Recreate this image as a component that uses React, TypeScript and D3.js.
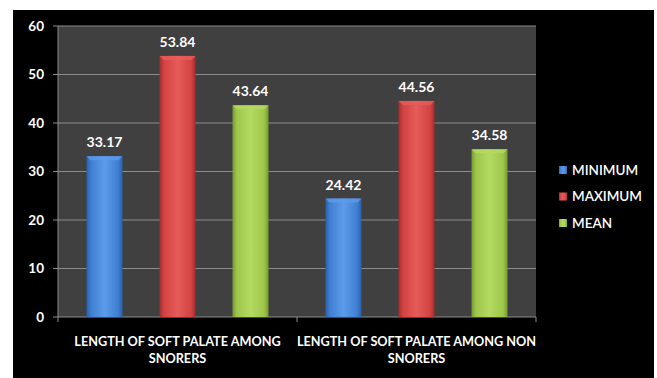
import React from 'react';
import * as d3 from 'd3';

const categories = [
  ['LENGTH OF SOFT PALATE AMONG', 'SNORERS'],
  ['LENGTH OF SOFT PALATE AMONG NON', 'SNORERS'],
];
const seriesNames = ['MINIMUM', 'MAXIMUM', 'MEAN'];
const minimum = [33.17, 24.42];
const maximum = [53.84, 44.56];
const mean = [43.64, 34.58];
const yTicks = [0, 10, 20, 30, 40, 50, 60];

const seriesValues = [minimum, maximum, mean];
const colors = [
  { base: '#3f7fd2', light: '#5d9bea', dark: '#2a5fa8' },
  { base: '#d24241', light: '#e65c5a', dark: '#a22c2c' },
  { base: '#9dc64a', light: '#b4da62', dark: '#789a33' },
];

export default function App() {
  const W = 657;
  const H = 378;
  const plot = { left: 58, right: 536, top: 26, bottom: 317 };

  const x0 = d3.scaleBand<number>()
    .domain(categories.map((_, i) => i))
    .range([plot.left, plot.right]);
  const x1 = d3.scaleBand<number>()
    .domain(seriesNames.map((_, i) => i))
    .range([0, x0.bandwidth()])
    .paddingInner(0.507)
    .paddingOuter(0.39);
  const y = d3.scaleLinear().domain([0, 60]).range([plot.bottom, plot.top]);

  const font = 'Lato, "Open Sans", sans-serif';

  return (
    <svg width={W} height={H} style={{ position: 'absolute', left: 0, top: 0 }}>
      <defs>
        {colors.map((c, i) => (
          <linearGradient key={i} id={`g${i}`} x1="0" x2="1" y1="0" y2="0">
            <stop offset="0" stopColor={c.dark} />
            <stop offset="0.12" stopColor={c.base} />
            <stop offset="0.5" stopColor={c.light} />
            <stop offset="0.88" stopColor={c.base} />
            <stop offset="1" stopColor={c.dark} />
          </linearGradient>
        ))}
      </defs>
      <rect x={0} y={0} width={W} height={H} fill="#ffffff" />
      <rect x={13} y={10} width={641} height={H - 10} fill="#000000" />
      <rect x={plot.left} y={plot.top} width={plot.right - plot.left} height={plot.bottom - plot.top} fill="#404040" />

      {yTicks.map((t) => (
        <g key={t}>
          {t > 0 && (
            <line x1={plot.left} x2={plot.right} y1={y(t)} y2={y(t)} stroke="#8c8c8c" strokeWidth={1} />
          )}
          <line x1={plot.left - 5} x2={plot.left} y1={y(t)} y2={y(t)} stroke="#8c8c8c" strokeWidth={1} />
          <text x={44} y={y(t)} dy="0.35em" textAnchor="end" fill="#fff" fontFamily={font} fontWeight={700} fontSize={13.5}>
            {t}
          </text>
        </g>
      ))}
      <line x1={plot.left} x2={plot.left} y1={plot.top} y2={plot.bottom} stroke="#8c8c8c" />
      <line x1={plot.left} x2={plot.right} y1={plot.bottom} y2={plot.bottom} stroke="#8c8c8c" />
      {[0, 1, 2].map((i) => {
        const xx = plot.left + i * x0.step();
        return <line key={i} x1={xx} x2={xx} y1={plot.bottom} y2={plot.bottom + 5} stroke="#8c8c8c" />;
      })}

      {categories.map((cat, ci) => (
        <g key={ci} transform={`translate(${x0(ci)},0)`}>
          {seriesValues.map((vals, si) => {
            const v = vals[ci];
            const bx = x1(si)!;
            const bw = x1.bandwidth();
            const top = y(v);
            const h = plot.bottom - top;
            return (
              <g key={si}>
                <rect x={bx} y={top} width={bw} height={h} fill={`url(#g${si})`} />
                <polygon
                  points={`${bx},${top} ${bx + bw},${top} ${bx + bw - 4},${top + 4} ${bx + 4},${top + 4}`}
                  fill={colors[si].light}
                  opacity={0.8}
                />
                <text
                  x={bx + bw / 2}
                  y={top - 9}
                  textAnchor="middle"
                  fill="#fff"
                  fontFamily={font}
                  fontWeight={700}
                  fontSize={14}
                >
                  {v.toFixed(2)}
                </text>
              </g>
            );
          })}
          {cat.map((line, li) => (
            <text
              key={li}
              x={x0.bandwidth() / 2}
              y={342 + li * 17}
              dy="0.35em"
              textAnchor="middle"
              fill="#fff"
              fontFamily={font}
              fontWeight={700}
              fontSize={12.7}
            >
              {line}
            </text>
          ))}
        </g>
      ))}

      {seriesNames.map((name, i) => (
        <g key={name} transform={`translate(559,${170 + i * 26.5})`}>
          <rect x={0} y={-4} width={8} height={8} fill={`url(#g${i})`} />
          <text x={13} y={0} dy="0.35em" fill="#fff" fontFamily={font} fontWeight={600} fontSize={13.5}>
            {name}
          </text>
        </g>
      ))}
    </svg>
  );
}
